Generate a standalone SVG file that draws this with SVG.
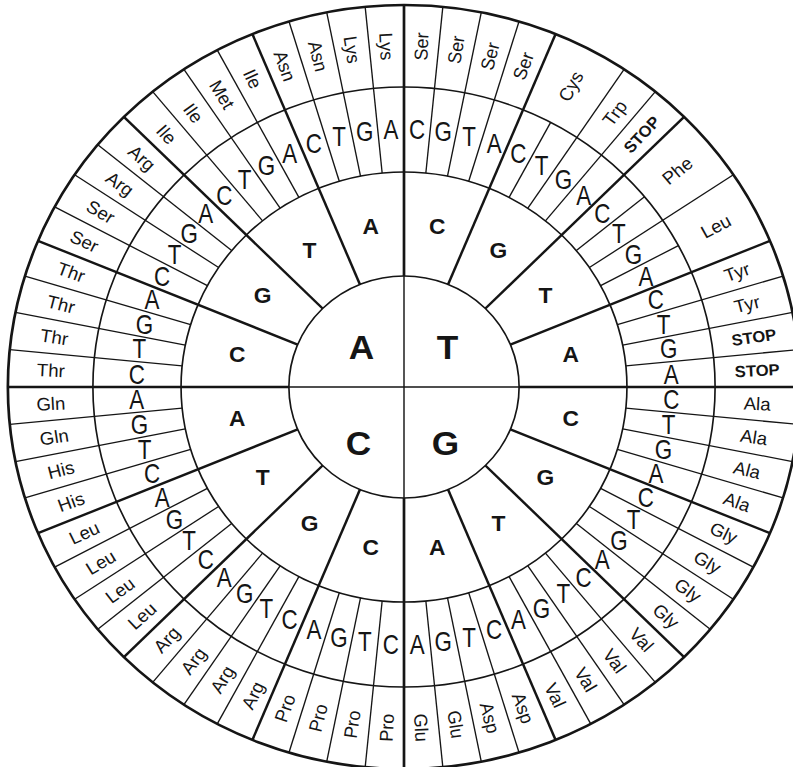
<svg xmlns="http://www.w3.org/2000/svg" xmlns:xlink="http://www.w3.org/1999/xlink" width="793" height="767" viewBox="0 0 793 767">
<style>
.ring{fill:none;stroke:#151515;stroke-width:1.6}
.outer{fill:none;stroke:#151515;stroke-width:2.6}
.l64{stroke:#151515;stroke-width:1.3}
.l16{stroke:#151515;stroke-width:2.4}
.lq{stroke:#151515;stroke-width:2.6}
.lin{stroke:#151515;stroke-width:1.4}
text{font-family:"Liberation Sans",Arial,sans-serif;fill:#151515;text-anchor:middle;dominant-baseline:central}
.hub{font-size:34px;font-weight:bold}
.b2{font-size:22px;font-weight:bold}
.b3{font-size:24px}
.aa{font-size:18px}
.stop{font-size:16px;font-weight:bold}
</style>
<defs>
<line id="s64" class="l64" x1="0" y1="-215" x2="0" y2="-382"/>
<line id="s64s" class="l64" x1="0" y1="-215" x2="0" y2="-300"/>
<line id="s16" class="l16" x1="0" y1="-111" x2="0" y2="-382"/>
<line id="sq" class="lq" x1="0" y1="-111" x2="0" y2="-382"/>
</defs>
<rect width="793" height="767" fill="#ffffff"/>
<g transform="translate(404,387) scale(1.037,1)">
<g id="connectors">
<circle class="ring" r="111"/>
<circle class="ring" r="215"/>
<circle class="ring" r="300"/>
<circle class="outer" r="382"/>
<line class="lin" x1="-111" y1="0" x2="111" y2="0"/>
<line class="lin" x1="0" y1="-111" x2="0" y2="111"/>
<use href="#sq" transform="rotate(0)"/>
<use href="#sq" transform="rotate(90)"/>
<use href="#sq" transform="rotate(180)"/>
<use href="#sq" transform="rotate(270)"/>
<use href="#s16" transform="rotate(22.5)"/>
<use href="#s16" transform="rotate(45)"/>
<use href="#s16" transform="rotate(67.5)"/>
<use href="#s16" transform="rotate(112.5)"/>
<use href="#s16" transform="rotate(135)"/>
<use href="#s16" transform="rotate(157.5)"/>
<use href="#s16" transform="rotate(202.5)"/>
<use href="#s16" transform="rotate(225)"/>
<use href="#s16" transform="rotate(247.5)"/>
<use href="#s16" transform="rotate(292.5)"/>
<use href="#s16" transform="rotate(315)"/>
<use href="#s16" transform="rotate(337.5)"/>
<use href="#s64" transform="rotate(5.625)"/>
<use href="#s64" transform="rotate(11.25)"/>
<use href="#s64" transform="rotate(16.875)"/>
<use href="#s64s" transform="rotate(28.125)"/>
<use href="#s64" transform="rotate(33.75)"/>
<use href="#s64" transform="rotate(39.375)"/>
<use href="#s64s" transform="rotate(50.625)"/>
<use href="#s64" transform="rotate(56.25)"/>
<use href="#s64s" transform="rotate(61.875)"/>
<use href="#s64" transform="rotate(73.125)"/>
<use href="#s64" transform="rotate(78.75)"/>
<use href="#s64" transform="rotate(84.375)"/>
<use href="#s64" transform="rotate(95.625)"/>
<use href="#s64" transform="rotate(101.25)"/>
<use href="#s64" transform="rotate(106.875)"/>
<use href="#s64" transform="rotate(118.125)"/>
<use href="#s64" transform="rotate(123.75)"/>
<use href="#s64" transform="rotate(129.375)"/>
<use href="#s64" transform="rotate(140.625)"/>
<use href="#s64" transform="rotate(146.25)"/>
<use href="#s64" transform="rotate(151.875)"/>
<use href="#s64" transform="rotate(163.125)"/>
<use href="#s64" transform="rotate(168.75)"/>
<use href="#s64" transform="rotate(174.375)"/>
<use href="#s64" transform="rotate(185.625)"/>
<use href="#s64" transform="rotate(191.25)"/>
<use href="#s64" transform="rotate(196.875)"/>
<use href="#s64" transform="rotate(208.125)"/>
<use href="#s64" transform="rotate(213.75)"/>
<use href="#s64" transform="rotate(219.375)"/>
<use href="#s64" transform="rotate(230.625)"/>
<use href="#s64" transform="rotate(236.25)"/>
<use href="#s64" transform="rotate(241.875)"/>
<use href="#s64" transform="rotate(253.125)"/>
<use href="#s64" transform="rotate(258.75)"/>
<use href="#s64" transform="rotate(264.375)"/>
<use href="#s64" transform="rotate(275.625)"/>
<use href="#s64" transform="rotate(281.25)"/>
<use href="#s64" transform="rotate(286.875)"/>
<use href="#s64" transform="rotate(298.125)"/>
<use href="#s64" transform="rotate(303.75)"/>
<use href="#s64" transform="rotate(309.375)"/>
<use href="#s64" transform="rotate(320.625)"/>
<use href="#s64" transform="rotate(326.25)"/>
<use href="#s64" transform="rotate(331.875)"/>
<use href="#s64" transform="rotate(343.125)"/>
<use href="#s64" transform="rotate(348.75)"/>
<use href="#s64" transform="rotate(354.375)"/>
</g>
<g id="hub">
<text class="hub" x="-41" y="-40">A</text>
<text class="hub" x="42" y="-40">T</text>
<text class="hub" x="-44" y="56">C</text>
<text class="hub" x="40" y="56">G</text>
</g>
<g id="second-ring">
<text class="b2" transform="rotate(11.25) translate(0,-164) rotate(-11.25)">C</text>
<text class="b2" transform="rotate(33.75) translate(0,-164) rotate(-33.75)">G</text>
<text class="b2" transform="rotate(56.25) translate(0,-164) rotate(-56.25)">T</text>
<text class="b2" transform="rotate(78.75) translate(0,-164) rotate(-78.75)">A</text>
<text class="b2" transform="rotate(101.25) translate(0,-164) rotate(-101.25)">C</text>
<text class="b2" transform="rotate(123.75) translate(0,-164) rotate(-123.75)">G</text>
<text class="b2" transform="rotate(146.25) translate(0,-164) rotate(-146.25)">T</text>
<text class="b2" transform="rotate(168.75) translate(0,-164) rotate(-168.75)">A</text>
<text class="b2" transform="rotate(191.25) translate(0,-164) rotate(-191.25)">C</text>
<text class="b2" transform="rotate(213.75) translate(0,-164) rotate(-213.75)">G</text>
<text class="b2" transform="rotate(236.25) translate(0,-164) rotate(-236.25)">T</text>
<text class="b2" transform="rotate(258.75) translate(0,-164) rotate(-258.75)">A</text>
<text class="b2" transform="rotate(281.25) translate(0,-164) rotate(-281.25)">C</text>
<text class="b2" transform="rotate(303.75) translate(0,-164) rotate(-303.75)">G</text>
<text class="b2" transform="rotate(326.25) translate(0,-164) rotate(-326.25)">T</text>
<text class="b2" transform="rotate(348.75) translate(0,-164) rotate(-348.75)">A</text>
</g>
<g id="third-ring">
<text class="b3" transform="rotate(2.8125) translate(0,-258) rotate(-2.8125) scale(0.9,1.12)">C</text>
<text class="b3" transform="rotate(8.4375) translate(0,-258) rotate(-8.4375) scale(0.9,1.12)">G</text>
<text class="b3" transform="rotate(14.0625) translate(0,-258) rotate(-14.0625) scale(0.9,1.12)">T</text>
<text class="b3" transform="rotate(19.6875) translate(0,-258) rotate(-19.6875) scale(0.9,1.12)">A</text>
<text class="b3" transform="rotate(25.3125) translate(0,-258) rotate(-25.3125) scale(0.9,1.12)">C</text>
<text class="b3" transform="rotate(30.9375) translate(0,-258) rotate(-30.9375) scale(0.9,1.12)">T</text>
<text class="b3" transform="rotate(36.5625) translate(0,-258) rotate(-36.5625) scale(0.9,1.12)">G</text>
<text class="b3" transform="rotate(42.1875) translate(0,-258) rotate(-42.1875) scale(0.9,1.12)">A</text>
<text class="b3" transform="rotate(47.8125) translate(0,-258) rotate(-47.8125) scale(0.9,1.12)">C</text>
<text class="b3" transform="rotate(53.4375) translate(0,-258) rotate(-53.4375) scale(0.9,1.12)">T</text>
<text class="b3" transform="rotate(59.0625) translate(0,-258) rotate(-59.0625) scale(0.9,1.12)">G</text>
<text class="b3" transform="rotate(64.6875) translate(0,-258) rotate(-64.6875) scale(0.9,1.12)">A</text>
<text class="b3" transform="rotate(70.3125) translate(0,-258) rotate(-70.3125) scale(0.9,1.12)">C</text>
<text class="b3" transform="rotate(75.9375) translate(0,-258) rotate(-75.9375) scale(0.9,1.12)">T</text>
<text class="b3" transform="rotate(81.5625) translate(0,-258) rotate(-81.5625) scale(0.9,1.12)">G</text>
<text class="b3" transform="rotate(87.1875) translate(0,-258) rotate(-87.1875) scale(0.9,1.12)">A</text>
<text class="b3" transform="rotate(92.8125) translate(0,-258) rotate(-92.8125) scale(0.9,1.12)">C</text>
<text class="b3" transform="rotate(98.4375) translate(0,-258) rotate(-98.4375) scale(0.9,1.12)">T</text>
<text class="b3" transform="rotate(104.0625) translate(0,-258) rotate(-104.0625) scale(0.9,1.12)">G</text>
<text class="b3" transform="rotate(109.6875) translate(0,-258) rotate(-109.6875) scale(0.9,1.12)">A</text>
<text class="b3" transform="rotate(115.3125) translate(0,-258) rotate(-115.3125) scale(0.9,1.12)">C</text>
<text class="b3" transform="rotate(120.9375) translate(0,-258) rotate(-120.9375) scale(0.9,1.12)">T</text>
<text class="b3" transform="rotate(126.5625) translate(0,-258) rotate(-126.5625) scale(0.9,1.12)">G</text>
<text class="b3" transform="rotate(132.1875) translate(0,-258) rotate(-132.1875) scale(0.9,1.12)">A</text>
<text class="b3" transform="rotate(137.8125) translate(0,-258) rotate(-137.8125) scale(0.9,1.12)">C</text>
<text class="b3" transform="rotate(143.4375) translate(0,-258) rotate(-143.4375) scale(0.9,1.12)">T</text>
<text class="b3" transform="rotate(149.0625) translate(0,-258) rotate(-149.0625) scale(0.9,1.12)">G</text>
<text class="b3" transform="rotate(154.6875) translate(0,-258) rotate(-154.6875) scale(0.9,1.12)">A</text>
<text class="b3" transform="rotate(160.3125) translate(0,-258) rotate(-160.3125) scale(0.9,1.12)">C</text>
<text class="b3" transform="rotate(165.9375) translate(0,-258) rotate(-165.9375) scale(0.9,1.12)">T</text>
<text class="b3" transform="rotate(171.5625) translate(0,-258) rotate(-171.5625) scale(0.9,1.12)">G</text>
<text class="b3" transform="rotate(177.1875) translate(0,-258) rotate(-177.1875) scale(0.9,1.12)">A</text>
<text class="b3" transform="rotate(182.8125) translate(0,-258) rotate(-182.8125) scale(0.9,1.12)">C</text>
<text class="b3" transform="rotate(188.4375) translate(0,-258) rotate(-188.4375) scale(0.9,1.12)">T</text>
<text class="b3" transform="rotate(194.0625) translate(0,-258) rotate(-194.0625) scale(0.9,1.12)">G</text>
<text class="b3" transform="rotate(199.6875) translate(0,-258) rotate(-199.6875) scale(0.9,1.12)">A</text>
<text class="b3" transform="rotate(205.3125) translate(0,-258) rotate(-205.3125) scale(0.9,1.12)">C</text>
<text class="b3" transform="rotate(210.9375) translate(0,-258) rotate(-210.9375) scale(0.9,1.12)">T</text>
<text class="b3" transform="rotate(216.5625) translate(0,-258) rotate(-216.5625) scale(0.9,1.12)">G</text>
<text class="b3" transform="rotate(222.1875) translate(0,-258) rotate(-222.1875) scale(0.9,1.12)">A</text>
<text class="b3" transform="rotate(227.8125) translate(0,-258) rotate(-227.8125) scale(0.9,1.12)">C</text>
<text class="b3" transform="rotate(233.4375) translate(0,-258) rotate(-233.4375) scale(0.9,1.12)">T</text>
<text class="b3" transform="rotate(239.0625) translate(0,-258) rotate(-239.0625) scale(0.9,1.12)">G</text>
<text class="b3" transform="rotate(244.6875) translate(0,-258) rotate(-244.6875) scale(0.9,1.12)">A</text>
<text class="b3" transform="rotate(250.3125) translate(0,-258) rotate(-250.3125) scale(0.9,1.12)">C</text>
<text class="b3" transform="rotate(255.9375) translate(0,-258) rotate(-255.9375) scale(0.9,1.12)">T</text>
<text class="b3" transform="rotate(261.5625) translate(0,-258) rotate(-261.5625) scale(0.9,1.12)">G</text>
<text class="b3" transform="rotate(267.1875) translate(0,-258) rotate(-267.1875) scale(0.9,1.12)">A</text>
<text class="b3" transform="rotate(272.8125) translate(0,-258) rotate(-272.8125) scale(0.9,1.12)">C</text>
<text class="b3" transform="rotate(278.4375) translate(0,-258) rotate(-278.4375) scale(0.9,1.12)">T</text>
<text class="b3" transform="rotate(284.0625) translate(0,-258) rotate(-284.0625) scale(0.9,1.12)">G</text>
<text class="b3" transform="rotate(289.6875) translate(0,-258) rotate(-289.6875) scale(0.9,1.12)">A</text>
<text class="b3" transform="rotate(295.3125) translate(0,-258) rotate(-295.3125) scale(0.9,1.12)">C</text>
<text class="b3" transform="rotate(300.9375) translate(0,-258) rotate(-300.9375) scale(0.9,1.12)">T</text>
<text class="b3" transform="rotate(306.5625) translate(0,-258) rotate(-306.5625) scale(0.9,1.12)">G</text>
<text class="b3" transform="rotate(312.1875) translate(0,-258) rotate(-312.1875) scale(0.9,1.12)">A</text>
<text class="b3" transform="rotate(317.8125) translate(0,-258) rotate(-317.8125) scale(0.9,1.12)">C</text>
<text class="b3" transform="rotate(323.4375) translate(0,-258) rotate(-323.4375) scale(0.9,1.12)">T</text>
<text class="b3" transform="rotate(329.0625) translate(0,-258) rotate(-329.0625) scale(0.9,1.12)">G</text>
<text class="b3" transform="rotate(334.6875) translate(0,-258) rotate(-334.6875) scale(0.9,1.12)">A</text>
<text class="b3" transform="rotate(340.3125) translate(0,-258) rotate(-340.3125) scale(0.9,1.12)">C</text>
<text class="b3" transform="rotate(345.9375) translate(0,-258) rotate(-345.9375) scale(0.9,1.12)">T</text>
<text class="b3" transform="rotate(351.5625) translate(0,-258) rotate(-351.5625) scale(0.9,1.12)">G</text>
<text class="b3" transform="rotate(357.1875) translate(0,-258) rotate(-357.1875) scale(0.9,1.12)">A</text>
</g>
<g id="amino-acids">
<text class="aa" transform="rotate(-87.1875) translate(341,0)">Ser</text>
<text class="aa" transform="rotate(-81.5625) translate(341,0)">Ser</text>
<text class="aa" transform="rotate(-75.9375) translate(341,0)">Ser</text>
<text class="aa" transform="rotate(-70.3125) translate(341,0)">Ser</text>
<text class="aa" transform="rotate(-61.875) translate(341,0)">Cys</text>
<text class="aa" transform="rotate(-53.4375) translate(341,0)">Trp</text>
<text class="stop" transform="rotate(-47.8125) translate(341,0)">STOP</text>
<text class="aa" transform="rotate(-39.375) translate(341,0)">Phe</text>
<text class="aa" transform="rotate(-28.125) translate(341,0)">Leu</text>
<text class="aa" transform="rotate(-19.6875) translate(341,0)">Tyr</text>
<text class="aa" transform="rotate(-14.0625) translate(341,0)">Tyr</text>
<text class="stop" transform="rotate(-8.4375) translate(341,0)">STOP</text>
<text class="stop" transform="rotate(-2.8125) translate(341,0)">STOP</text>
<text class="aa" transform="rotate(2.8125) translate(341,0)">Ala</text>
<text class="aa" transform="rotate(8.4375) translate(341,0)">Ala</text>
<text class="aa" transform="rotate(14.0625) translate(341,0)">Ala</text>
<text class="aa" transform="rotate(19.6875) translate(341,0)">Ala</text>
<text class="aa" transform="rotate(25.3125) translate(341,0)">Gly</text>
<text class="aa" transform="rotate(30.9375) translate(341,0)">Gly</text>
<text class="aa" transform="rotate(36.5625) translate(341,0)">Gly</text>
<text class="aa" transform="rotate(42.1875) translate(341,0)">Gly</text>
<text class="aa" transform="rotate(47.8125) translate(341,0)">Val</text>
<text class="aa" transform="rotate(53.4375) translate(341,0)">Val</text>
<text class="aa" transform="rotate(59.0625) translate(341,0)">Val</text>
<text class="aa" transform="rotate(64.6875) translate(341,0)">Val</text>
<text class="aa" transform="rotate(70.3125) translate(341,0)">Asp</text>
<text class="aa" transform="rotate(75.9375) translate(341,0)">Asp</text>
<text class="aa" transform="rotate(81.5625) translate(341,0)">Glu</text>
<text class="aa" transform="rotate(87.1875) translate(341,0)">Glu</text>
<text class="aa" transform="rotate(-87.1875) translate(-341,0)">Pro</text>
<text class="aa" transform="rotate(-81.5625) translate(-341,0)">Pro</text>
<text class="aa" transform="rotate(-75.9375) translate(-341,0)">Pro</text>
<text class="aa" transform="rotate(-70.3125) translate(-341,0)">Pro</text>
<text class="aa" transform="rotate(-64.6875) translate(-341,0)">Arg</text>
<text class="aa" transform="rotate(-59.0625) translate(-341,0)">Arg</text>
<text class="aa" transform="rotate(-53.4375) translate(-341,0)">Arg</text>
<text class="aa" transform="rotate(-47.8125) translate(-341,0)">Arg</text>
<text class="aa" transform="rotate(-42.1875) translate(-341,0)">Leu</text>
<text class="aa" transform="rotate(-36.5625) translate(-341,0)">Leu</text>
<text class="aa" transform="rotate(-30.9375) translate(-341,0)">Leu</text>
<text class="aa" transform="rotate(-25.3125) translate(-341,0)">Leu</text>
<text class="aa" transform="rotate(-19.6875) translate(-341,0)">His</text>
<text class="aa" transform="rotate(-14.0625) translate(-341,0)">His</text>
<text class="aa" transform="rotate(-8.4375) translate(-341,0)">Gln</text>
<text class="aa" transform="rotate(-2.8125) translate(-341,0)">Gln</text>
<text class="aa" transform="rotate(2.8125) translate(-341,0)">Thr</text>
<text class="aa" transform="rotate(8.4375) translate(-341,0)">Thr</text>
<text class="aa" transform="rotate(14.0625) translate(-341,0)">Thr</text>
<text class="aa" transform="rotate(19.6875) translate(-341,0)">Thr</text>
<text class="aa" transform="rotate(25.3125) translate(-341,0)">Ser</text>
<text class="aa" transform="rotate(30.9375) translate(-341,0)">Ser</text>
<text class="aa" transform="rotate(36.5625) translate(-341,0)">Arg</text>
<text class="aa" transform="rotate(42.1875) translate(-341,0)">Arg</text>
<text class="aa" transform="rotate(47.8125) translate(-341,0)">Ile</text>
<text class="aa" transform="rotate(53.4375) translate(-341,0)">Ile</text>
<text class="aa" transform="rotate(59.0625) translate(-341,0)">Met</text>
<text class="aa" transform="rotate(64.6875) translate(-341,0)">Ile</text>
<text class="aa" transform="rotate(70.3125) translate(-341,0)">Asn</text>
<text class="aa" transform="rotate(75.9375) translate(-341,0)">Asn</text>
<text class="aa" transform="rotate(81.5625) translate(-341,0)">Lys</text>
<text class="aa" transform="rotate(87.1875) translate(-341,0)">Lys</text>
</g>
</g>
</svg>
